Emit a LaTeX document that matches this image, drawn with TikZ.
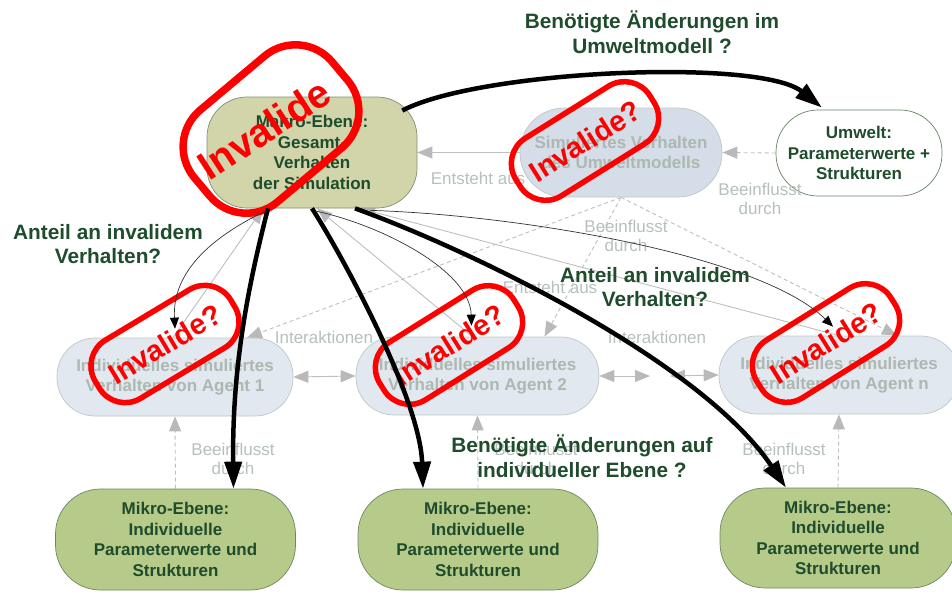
\documentclass[tikz,border=0pt]{standalone}
\usepackage{fontspec}
\setmainfont{Liberation Sans}
\usetikzlibrary{arrows.meta,calc,backgrounds}

\definecolor{dkgreen}{RGB}{30,76,44}
\definecolor{graytxt}{RGB}{182,192,186}
\definecolor{agtxt}{RGB}{172,184,176}
\definecolor{gline}{RGB}{190,190,190}
\definecolor{ghead}{RGB}{185,185,185}
\definecolor{macfill}{RGB}{210,212,170}
\definecolor{macdraw}{RGB}{125,145,115}
\definecolor{envfill}{RGB}{212,221,232}
\definecolor{agfill}{RGB}{226,232,240}
\definecolor{agdraw}{RGB}{190,200,195}
\definecolor{mikfill}{RGB}{182,202,137}
\definecolor{mikdraw}{RGB}{110,135,95}
\definecolor{umwdraw}{RGB}{100,130,100}
\definecolor{stampred}{RGB}{255,0,0}

\begin{document}
\begin{tikzpicture}[x=1pt,y=-1pt,
  box/.style={draw, line width=0.7pt, align=center, inner sep=0pt,
    font=\fontsize{17}{20.5}\selectfont\bfseries},
  macro/.style={box, fill=macfill, draw=macdraw, text=dkgreen,
    minimum width=210pt, minimum height=111pt, rounded corners=40pt},
  envbox/.style={box, fill=envfill, draw=agdraw, text=agtxt,
    minimum width=202pt, minimum height=89pt, rounded corners=44pt},
  umwbox/.style={box, fill=white, draw=umwdraw, text=dkgreen,
    minimum width=166pt, minimum height=86pt, rounded corners=42pt},
  agent/.style={box, fill=agfill, draw=agdraw, text=agtxt,
    minimum height=78pt, rounded corners=38pt, font=\fontsize{17}{20}\selectfont\bfseries},
  mikro/.style={box, fill=mikfill, draw=mikdraw, text=dkgreen,
    minimum width=240pt, minimum height=101pt, rounded corners=45pt,
    font=\fontsize{17}{20.5}\selectfont\bfseries},
  glabel/.style={text=graytxt, align=center, inner sep=0pt,
    font=\fontsize{17}{19}\selectfont},
  qlabel/.style={text=dkgreen, align=center, inner sep=0pt,
    font=\fontsize{20.8}{24.5}\selectfont\bfseries},
  gtip/.style={-{Triangle[length=15pt,width=12pt,color=ghead]}},
  gtips/.style={{Triangle[length=15pt,width=12pt,color=ghead]}-{Triangle[length=15pt,width=12pt,color=ghead]}},
  gsolid/.style={draw=gline, line width=0.9pt},
  gdash/.style={draw=gline, line width=0.9pt, dash pattern=on 4pt off 3pt},
  bigarrow/.style={draw=black, line width=4.5pt, -{Triangle[length=27pt,width=17pt]}},
  thinarrow/.style={draw=black!80, line width=0.7pt, -{Triangle[length=11pt,width=9pt,color=black]}},
  stampbox/.style={draw=stampred, text=stampred, inner sep=0pt,
    line width=5.5pt, minimum width=158pt, minimum height=68pt, rounded corners=30pt,
    font=\fontsize{29}{29}\selectfont\bfseries},
  bigframe/.style={draw=stampred, line width=7.5pt, minimum width=180pt,
    minimum height=120pt, rounded corners=48pt, inner sep=0pt},
  bigword/.style={text=stampred, inner sep=0pt, font=\fontsize{40}{40}\selectfont\bfseries}
]
\useasboundingbox (0,0) rectangle (952,597);

% ---- nodes ----
\node[macro] (mak) at (312,152.5) {Makro-Ebene:\\Gesamt-\\Verhalten\\der Simulation};
\node[envbox] (umm) at (621,152.5) {Simuliertes Verhalten\\des Umweltmodells};
\node[umwbox] (umw) at (859,153) {Umwelt:\\Parameterwerte +\\Strukturen};

\node[agent, minimum width=236pt] (a1) at (175,377) {Individuelles simuliertes\\Verhalten von Agent 1};
\node[agent, minimum width=243pt] (a2) at (477.5,376) {Individuelles simuliertes\\Verhalten von Agent 2};
\node[agent, minimum width=240pt] (an) at (839,375) {Individuelles simuliertes\\Verhalten von Agent n};

\node[mikro] (m1) at (175.5,539.5) {Mikro-Ebene:\\Individuelle\\Parameterwerte und\\Strukturen};
\node[mikro] (m2) at (478,539.5) {Mikro-Ebene:\\Individuelle\\Parameterwerte und\\Strukturen};
\node[mikro, minimum width=236pt, minimum height=100pt] (m3) at (838,538) {Mikro-Ebene:\\Individuelle\\Parameterwerte und\\Strukturen};

\coordinate (gapL) at (650,376);
\coordinate (gapR) at (670,376);

% ---- grey relations, kept behind the boxes ----
\begin{scope}[on background layer]
\draw[gsolid, gtip] (umm.west) -- (mak.east);
\draw[gdash, gtip] (umw.west) -- (umm.east);

\draw[gdash, gtip] (umm.south) -- ($(a1.north)+(72,0)$);
\draw[gdash, gtip] (umm.south) -- ($(a2.north)+(67,0)$);
\draw[gdash, gtip] (umm.south) -- ($(an.north)+(58,0)$);

\draw[gsolid, gtip] ($(a1.north)+(-2,0)$) -- ($(mak.south)+(-49,0)$);
\draw[gsolid, gtip] ($(a2.north)+(-5,0)$) -- ($(mak.south)+(5,0)$);
\draw[gsolid, gtip] (an.north) -- ($(mak.south)+(48,0)$);

\draw[gdash, gtip] (m1.north) -- (a1.south);
\draw[gdash, gtip] (m2.north) -- (a2.south);
\draw[gdash, gtip] (m3.north) -- (an.south);

\draw[gsolid, gtips] (a1.east) -- (a2.west);
\draw[gsolid, gtips] (a2.east) -- (gapL);
\draw[gsolid, gtips] (gapR) -- (an.west);
\end{scope}

% ---- grey relation labels ----
\node[glabel] (l1) at (478,178) {Entsteht aus};
\node[glabel] (l2) at (760,199) {Beeinflusst\\durch};
\node[glabel] (l3) at (626,235.5) {Beeinflusst\\durch};
\node[glabel] (l4) at (550,287) {Entsteht aus};
\node[glabel] (l5) at (324,337) {Interaktionen};
\node[glabel] (l6) at (657,337) {Interaktionen};
\node[glabel] (l7) at (233,458.5) {Beeinflusst\\durch};
\node[glabel] (l8) at (536,458.5) {Beeinflusst\\durch};
\node[glabel] (l9) at (784,458.5) {Beeinflusst\\durch};

% ---- stamps ----
\node[bigframe, rotate=40] (inv0) at (271,129) {};
\node[bigword, rotate=33] (invw) at (264,129) {Invalide};
\node[stampbox, rotate=32] (inv4) at (585,141) {Invalide?};
\node[stampbox, rotate=31] (inv1) at (165,344) {Invalide?};
\node[stampbox, rotate=32] (inv2) at (449,345) {Invalide?};
\node[stampbox, rotate=32] (inv3) at (826,343) {Invalide?};

% ---- thin black arrows: share of invalid behaviour ----
\draw[thinarrow] ($(mak.south)+(-45,2)$) .. controls (215,235) and (172,270) .. ($(a1.north)+(0,-9)$);
\draw[thinarrow] ($(mak.south)+(5,3)$) .. controls (380,225) and (470,270) .. ($(a2.north)+(-6,-11)$);
\draw[thinarrow] ($(mak.south)+(58,2)$) .. controls (520,215) and (760,255) .. ($(an.north)+(-6,-9)$);

% ---- thick black arrows: required changes ----
\draw[bigarrow] ($(mak.east)+(-15,-42)$) .. controls (480,70) and (760,58) .. ($(umw.north)+(-37,-2)$);
\draw[bigarrow] ($(mak.south)+(-44,0)$) .. controls (247,290) and (232,370) .. ($(m1.north)+(58,0)$);
\draw[bigarrow] (mak.south) .. controls (345,260) and (420,400) .. ($(m2.north)+(-55,0)$);
\draw[bigarrow] ($(mak.south)+(43,0)$) .. controls (470,250) and (700,360) .. ($(m3.north)+(-52,0)$);

% ---- questions ----
\node[qlabel] (q1) at (652,32) {Benötigte Änderungen im\\Umweltmodell ?};
\node[qlabel] (q2) at (108,244) {Anteil an invalidem\\Verhalten?};
\node[qlabel] (q3) at (655,287) {Anteil an invalidem\\Verhalten?};
\node[qlabel] (q4) at (582,456) {Benötigte Änderungen auf\\individueller Ebene ?};
\end{tikzpicture}
\end{document}
